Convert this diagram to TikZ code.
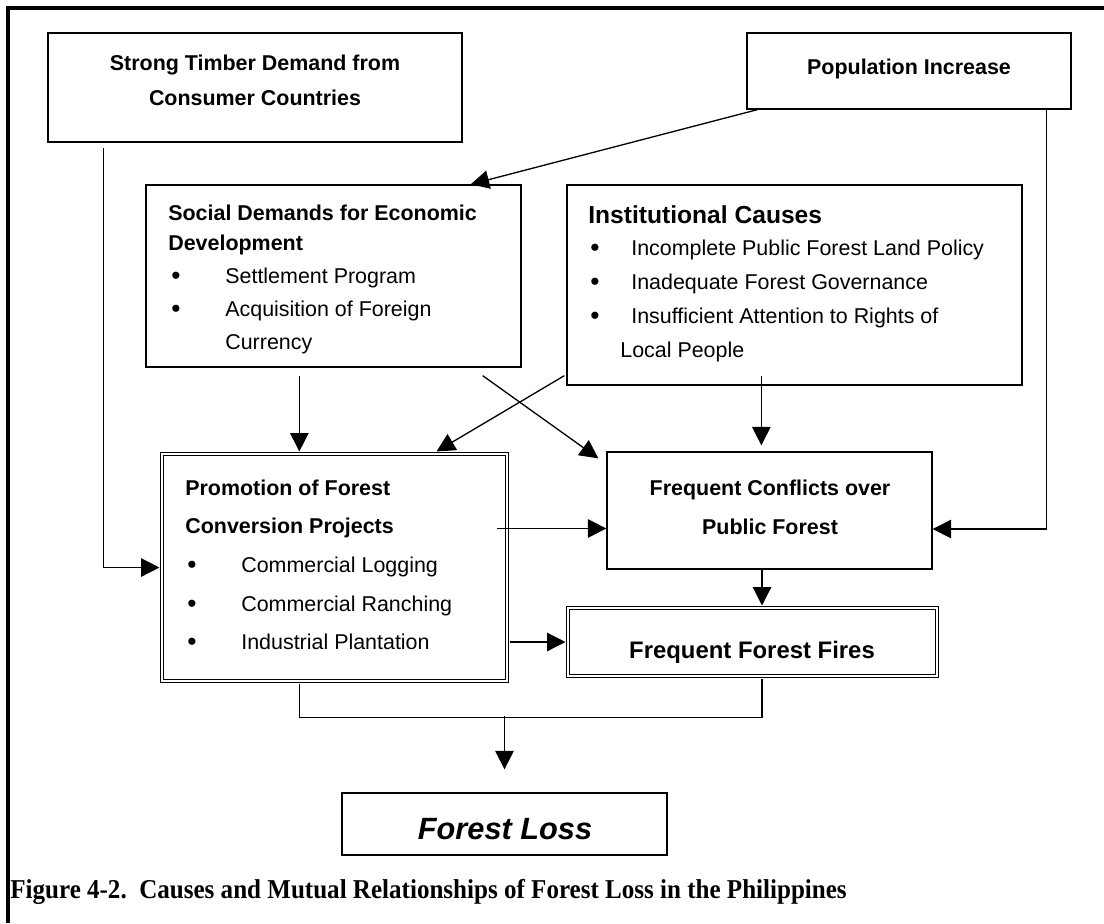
\documentclass[tikz,border=0pt]{standalone}
\usepackage{fontspec}
\setmainfont{Liberation Sans}
\newfontfamily\capfont[FakeStretch=0.92]{Liberation Serif}
\usetikzlibrary{arrows.meta,calc,fit}
\begin{document}
\begin{tikzpicture}[x=0.02cm,y=-0.02cm,
  box/.style={draw, line width=0.75pt, inner sep=0pt},
  dbox/.style={draw, double, line width=0.6pt, double distance=1.5pt, inner sep=0pt},
  arr/.style={line width=0.75pt, -{Triangle[length=10.5pt,width=10.5pt]}},
  ln/.style={line width=0.75pt},
  tb/.style={font=\fontsize{12.2}{14}\selectfont\bfseries, inner sep=0pt, anchor=base},
  tbl/.style={font=\fontsize{12.2}{14}\selectfont\bfseries, inner sep=0pt, anchor=base west},
  tl/.style={font=\fontsize{12.2}{14}\selectfont, inner sep=0pt, anchor=base west},
  bul/.style={font=\fontsize{15}{16}\selectfont, inner sep=0pt, anchor=base west}]
\fill[white] (0,0) rectangle (1104,923);
\useasboundingbox (0,0) rectangle (1104,923);
% frame
\draw[line width=1.8pt, line join=miter] (8,923) -- (8,8) -- (1104,8);
% boxes
\node[box, fit={(48,33)(462,142)}] (strong) {};
\node[box, fit={(747,33)(1071,109)}] (pop) {};
\node[box, fit={(146,185)(521,367)}] (soc) {};
\node[box, fit={(567,185)(1022,385)}] (inst) {};
\node[dbox, fit={(162,454)(507,681)}] (promo) {};
\node[box, fit={(607,452)(932,569)}] (conf) {};
\node[dbox, fit={(568,608)(937,676)}] (fires) {};
\node[box, fit={(342,793)(667,855)}] (loss) {};
% texts
\node[tb] (t1) at (255,70.5) {Strong Timber Demand from};
\node[tb] (t2) at (255,105.5) {Consumer Countries};
\node[tb] (t3) at (909,74.5) {Population Increase};
\node[tbl] (t4) at (168,220.5) {Social Demands for Economic};
\node[tbl] (t5) at (168,250.5) {Development};
\node[bul] (b1) at (171,284.5) {•};
\node[tl] (t6) at (225,283.5) {Settlement Program};
\node[bul] (b2) at (171,317.5) {•};
\node[tl] (t7) at (225,316.5) {Acquisition of Foreign};
\node[tl] (t8) at (225,349.5) {Currency};
\node[tbl, font=\fontsize{14}{16}\selectfont\bfseries] (t9) at (588,223) {Institutional Causes};
\node[bul] (b3) at (590,256.5) {•};
\node[tl] (t10) at (631,255.5) {Incomplete Public Forest Land Policy};
\node[bul] (b4) at (590,290.5) {•};
\node[tl] (t11) at (631,289.5) {Inadequate Forest Governance};
\node[bul] (b5) at (590,324.5) {•};
\node[tl] (t12) at (631,323.5) {Insufficient Attention to Rights of};
\node[tl] (t13) at (620,357.5) {Local People};
\node[tbl] (t14) at (185,495.5) {Promotion of Forest};
\node[tbl] (t15) at (185,533.5) {Conversion Projects};
\node[bul] (b6) at (187,573.5) {•};
\node[tl] (t16) at (241,572.5) {Commercial Logging};
\node[bul] (b7) at (187,612.5) {•};
\node[tl] (t17) at (241,611.5) {Commercial Ranching};
\node[bul] (b8) at (187,650.5) {•};
\node[tl] (t18) at (241,649.5) {Industrial Plantation};
\node[tb] (t19) at (770,495.5) {Frequent Conflicts over};
\node[tb] (t20) at (770,534.5) {Public Forest};
\node[tb, font=\fontsize{13.6}{16}\selectfont\bfseries] (t21) at (752,658) {Frequent Forest Fires};
\node[tb, font=\fontsize{17.5}{20}\selectfont\bfseries\itshape] (t22) at (505,839) {Forest Loss};
\node[inner sep=0pt, anchor=base west, font=\fontsize{15.5}{18}\selectfont\capfont\bfseries] (cap) at (10,898)
  {Figure 4-2.\ \ Causes and Mutual Relationships of Forest Loss in the Philippines};
% connectors
\draw[arr] ($(pop.south west)+(11,0)$) -- ($(soc.north east)+(-51,0)$);
\draw[arr] ($(pop.south east)+(-25,0)$) |- ($(conf.east)+(0,18.5)$);
\draw[arr] ($(strong.south west)+(56,5)$) |- ($(promo.west)+(-2,0)$);
\coordinate (s1) at ($(soc.south west)+(154,8)$);
\draw[arr] (s1) -- (s1 |- {$(promo.north)+(0,-2)$});
\draw[arr] ($(soc.south east)+(-39,8)$) -- ($(conf.north west)+(-8,7)$);
\draw[arr] ($(inst.south west)+(-2,-10)$) -- ($(promo.north west)+(275,-2)$);
\coordinate (i1) at ($(inst.south west)+(195,-10)$);
\draw[arr] (i1) -- (i1 |- {$(conf.north)+(0,-6)$});
\coordinate (p1) at ($(promo.north east)+(-11,75)$);
\draw[arr] (p1) -- (p1 -| conf.west);
\draw[arr] ($(fires.west -| promo.east)+(2,0)$) -- ($(fires.west)+(-2,0)$);
\coordinate (c1) at ($(conf.south)+(-7.5,0)$);
\draw[arr] (c1) -- (c1 |- {$(fires.north)+(0,-2)$});
\coordinate (j) at ($(loss.north)+(0,-76)$);
\draw[ln] ($(promo.south west)+(138,2)$) |- ($(fires.south)+(9.5,41)$) -- ($(fires.south)+(9.5,2)$);
\draw[arr] (j) -- ($(loss.north)+(0,-23)$);
\end{tikzpicture}
\end{document}
